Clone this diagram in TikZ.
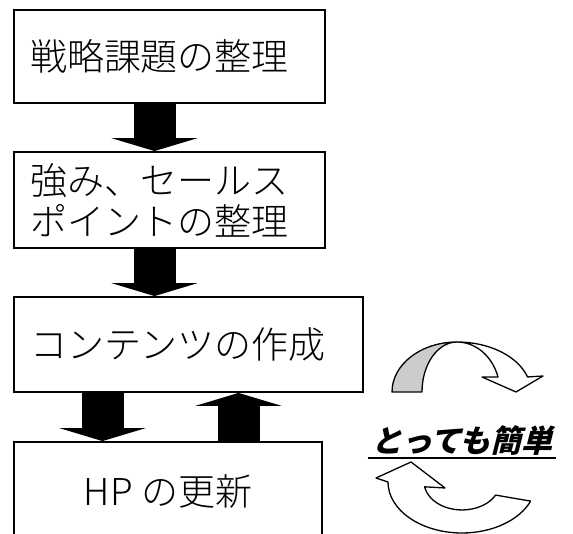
\documentclass[tikz,border=0pt]{standalone}
\usepackage{fontspec}
\setmainfont{Noto Sans CJK JP Light}
\newfontfamily\easyfont[FakeSlant=0.25]{Noto Sans CJK JP}
\usetikzlibrary{arrows.meta}
\begin{document}
\begin{tikzpicture}[x=1pt,y=1pt,
		box/.style={draw,line width=1.8pt,inner xsep=16pt,align=left,font=\fontsize{37}{41}\selectfont},
		fat/.style={line width=42pt,-{Triangle[width=86pt,length=13pt]}},
		turn/.style={line width=1.3pt,line join=round}]
	\useasboundingbox (0,0) rectangle (573,534);
	\node[box,text width=279pt,minimum height=93pt] (plan) at (169.5,477.5) {戦略課題の整理};
	\node[box,text width=279pt,minimum height=96pt] (sell) at (169.5,334) {強み、セールス\\ポイントの整理};
	\node[box,text width=317pt,minimum height=95pt] (make) at (188.5,189.5) {コンテンツの作成};
	\node[box,align=center,minimum width=308pt,minimum height=100pt] (hp) at (168,42) {HP の更新};
	\path[fat]
	([xshift=-15pt]plan.south) edge ([xshift=-15pt]sell.north)
	([xshift=-15pt]sell.south) edge ([xshift=-34pt]make.north)
	([xshift=-86pt]make.south) edge ([xshift=-65.5pt]hp.north)
	([xshift=70.5pt]hp.north) edge ([xshift=50pt]make.south);
	% round arrows
	\filldraw[turn,fill=gray!40] (392,142) arc[start angle=180,end angle=90,x radius=65,y radius=50]
	arc[start angle=90,end angle=180,x radius=35,y radius=50] -- cycle;
	\filldraw[turn,fill=white] (457,192) arc[start angle=90,end angle=17.5,x radius=74,y radius=50]
	-- (543,158) -- (516,142) -- (482,157) -- (498,157)
	arc[start angle=17.5,end angle=90,x radius=43,y radius=50] -- cycle;
	\filldraw[turn,fill=white] (376,56) -- (388,52) arc[start angle=180,end angle=338,x radius=74,y radius=51]
	-- (495.6,38.9) arc[start angle=332,end angle=190,x radius=38,y radius=28]
	-- (445,46) -- (411,72) -- cycle;
	\node[anchor=base,inner xsep=3pt,font=\easyfont\bfseries\fontsize{31}{31}\selectfont] (easy) at (462,81) {とっても簡単};
	\draw[line width=2.5pt] ([yshift=-5pt]easy.base west) -- ([yshift=-5pt]easy.base east);
\end{tikzpicture}
\end{document}
